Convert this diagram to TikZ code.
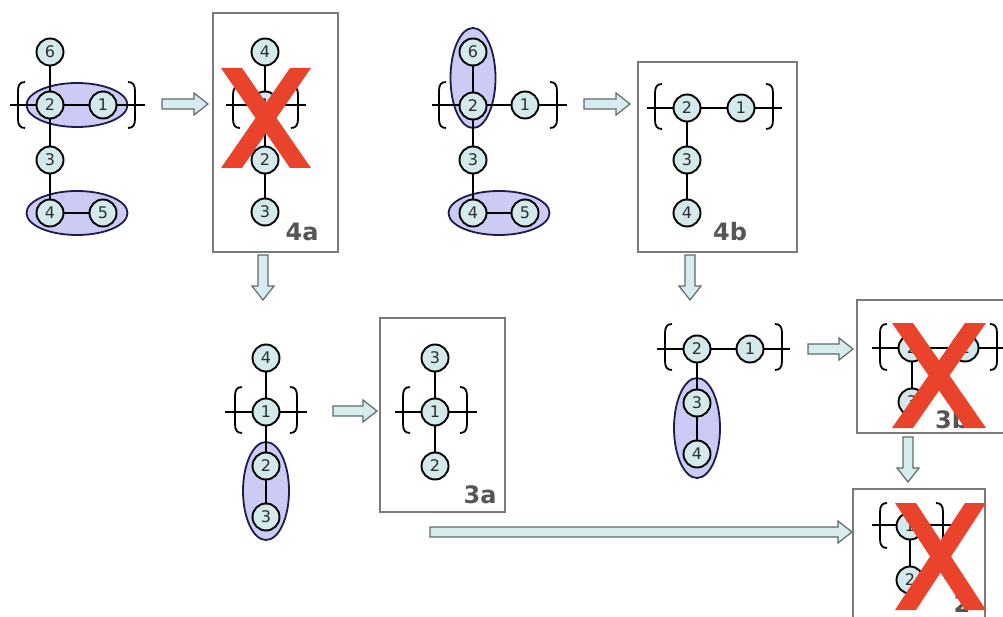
\documentclass[tikz,border=0pt]{standalone}
\usepackage{fontspec}
\newfontfamily\dvs{DejaVu Sans}
\usetikzlibrary{shapes.geometric}
\pgfdeclarelayer{paper}
\pgfdeclarelayer{ellip}
\pgfdeclarelayer{lines}
\pgfsetlayers{paper,ellip,lines,main}
\definecolor{nodefill}{HTML}{D3E9EB}
\definecolor{digit}{HTML}{2E2E2E}
\definecolor{grpfill}{HTML}{CBCBF5}
\definecolor{grpline}{HTML}{1C1C4A}
\definecolor{framegray}{HTML}{7A7A7A}
\definecolor{taggray}{HTML}{555555}
\definecolor{arrowfill}{HTML}{D6ECEF}
\definecolor{arrowline}{HTML}{5F6B6B}
\definecolor{crossred}{HTML}{E9432C}
\tikzset{
  atom/.style={circle, draw=black, fill=nodefill, line width=1.9pt,
    minimum size=27pt, inner sep=0pt, text=digit,
    font=\dvs\fontsize{16}{16}\selectfont},
  grp/.style={ellipse, draw=grpline, fill=grpfill, line width=1.8pt, inner sep=0pt},
  bond/.style={line width=1.8pt, black},
  frame/.style={draw=framegray, line width=1.4pt},
  tag/.style={font=\dvs\bfseries\fontsize{24}{24}\selectfont, text=taggray, inner sep=0pt},
  blk/.style={draw=arrowline, fill=arrowfill, line width=1.2pt, line join=miter},
  cross/.style={fill=crossred},
}
% brackets: x, top y, bottom y
\newcommand{\lbrk}[3]{\draw[bond] (#1+7,#2) .. controls (#1+2,#2) and (#1,#2+3) .. (#1,#2+9)
  -- (#1,#3-9) .. controls (#1,#3-3) and (#1+2,#3) .. (#1+7,#3);}
\newcommand{\rbrk}[3]{\draw[bond] (#1-7,#2) .. controls (#1-2,#2) and (#1,#2+3) .. (#1,#2+9)
  -- (#1,#3-9) .. controls (#1,#3-3) and (#1-2,#3) .. (#1-7,#3);}
% block arrows
\newcommand{\rarrow}[3]{\draw[blk] (#1,#3-5) -- (#2-14,#3-5) -- (#2-14,#3-11) -- (#2,#3)
  -- (#2-14,#3+11) -- (#2-14,#3+5) -- (#1,#3+5) -- cycle;}
\newcommand{\darrow}[3]{\draw[blk] (#1-5,#2) -- (#1-5,#3-14) -- (#1-11,#3-14) -- (#1,#3)
  -- (#1+11,#3-14) -- (#1+5,#3-14) -- (#1+5,#2) -- cycle;}
% red cross: left, top, right, bottom
\newcommand{\xmark}[4]{%
  \fill[cross] (#1,#2) -- (#1+21,#2) -- (#3,#4) -- (#3-21,#4) -- cycle;
  \fill[cross] (#3-21,#2) -- (#3,#2) -- (#1+21,#4) -- (#1,#4) -- cycle;}
\begin{document}
\begin{tikzpicture}[x=1pt,y=-1pt]
\begin{pgfonlayer}{paper}
  \fill[white] (0,0) rectangle (1003,617);
\end{pgfonlayer}
\useasboundingbox (0,0) rectangle (1003,617);

% ---- starting molecule, ring groups 2-1 and 4-5
\node[atom] (A6) at (50,52) {6};
\node[atom] (A2) at (50,105) {2};
\node[atom] (A1) at (103,105) {1};
\node[atom] (A3) at (50,160) {3};
\node[atom] (A4) at (50,213) {4};
\node[atom] (A5) at (103,213) {5};
\begin{pgfonlayer}{ellip}
  \node[grp, minimum width=101pt, minimum height=44pt] (gA1) at (77,105) {};
  \node[grp, minimum width=101pt, minimum height=44pt] (gA2) at (77,213) {};
\end{pgfonlayer}
\begin{pgfonlayer}{lines}
  \draw[bond] (10,105) -- (145,105);
  \draw[bond] (A6) -- (A2) -- (A3) -- (A4) -- (A5);
  \lbrk{18}{82}{128} \rbrk{135}{82}{128}
\end{pgfonlayer}
\rarrow{162}{208}{104}

% ---- result 4a
\draw[frame] (213,13) rectangle (338,252);
\node[atom] (B4) at (265,52) {4};
\node[atom] (B1) at (265,105) {1};
\node[atom] (B2) at (265,160) {2};
\node[atom] (B3) at (265,212) {3};
\begin{pgfonlayer}{lines}
  \draw[bond] (226,105) -- (306,105);
  \draw[bond] (B4) -- (B1) -- (B2) -- (B3);
  \lbrk{233}{86}{128} \rbrk{298}{86}{128}
\end{pgfonlayer}
\node[tag] (t4a) at (302,232) {4a};
\xmark{221}{68}{311}{168}
\darrow{263}{255}{300}

% ---- second variant, groups 6-2 and 4-5
\node[atom] (C6) at (473,52) {6};
\node[atom] (C2) at (473,106) {2};
\node[atom] (C1) at (525,105) {1};
\node[atom] (C3) at (473,160) {3};
\node[atom] (C4) at (473,213) {4};
\node[atom] (C5) at (525,213) {5};
\begin{pgfonlayer}{ellip}
  \node[grp, minimum width=45pt, minimum height=100pt] (gC1) at (473,78) {};
  \node[grp, minimum width=101pt, minimum height=44pt] (gC2) at (499,213) {};
\end{pgfonlayer}
\begin{pgfonlayer}{lines}
  \draw[bond] (432,105) -- (567,105);
  \draw[bond] (C6) -- (C2) -- (C3) -- (C4) -- (C5);
  \lbrk{439}{82}{128} \rbrk{557}{82}{128}
\end{pgfonlayer}
\rarrow{584}{630}{104}

% ---- result 4b
\draw[frame] (638,62) rectangle (797,252);
\node[atom] (D2) at (687,108) {2};
\node[atom] (D1) at (741,108) {1};
\node[atom] (D3) at (687,160) {3};
\node[atom] (D4) at (687,213) {4};
\begin{pgfonlayer}{lines}
  \draw[bond] (647,108) -- (782,108);
  \draw[bond] (D1) -- (D2) -- (D3) -- (D4);
  \lbrk{655}{84}{129} \rbrk{773}{84}{129}
\end{pgfonlayer}
\node[tag] (t4b) at (730,232) {4b};
\darrow{690}{255}{300}

% ---- next step from 4a, group 2-3
\node[atom] (E4) at (266,358) {4};
\node[atom] (E1) at (266,412) {1};
\node[atom] (E2) at (266,466) {2};
\node[atom] (E3) at (266,517) {3};
\begin{pgfonlayer}{ellip}
  \node[grp, minimum width=46pt, minimum height=98pt] (gE) at (266,491) {};
\end{pgfonlayer}
\begin{pgfonlayer}{lines}
  \draw[bond] (225,412) -- (307,412);
  \draw[bond] (E4) -- (E1) -- (E2) -- (E3);
  \lbrk{235}{387}{433} \rbrk{297}{387}{433}
\end{pgfonlayer}
\rarrow{333}{377}{411}

% ---- result 3a
\draw[frame] (380,318) rectangle (505,512);
\node[atom] (F3) at (435,358) {3};
\node[atom] (F1) at (435,412) {1};
\node[atom] (F2) at (435,466) {2};
\begin{pgfonlayer}{lines}
  \draw[bond] (395,412) -- (477,412);
  \draw[bond] (F3) -- (F1) -- (F2);
  \lbrk{403}{387}{433} \rbrk{467}{387}{433}
\end{pgfonlayer}
\node[tag] (t3a) at (480,495) {3a};
\rarrow{430}{852}{532}

% ---- next step from 4b, group 3-4
\node[atom] (G2) at (697,349) {2};
\node[atom] (G1) at (750,349) {1};
\node[atom] (G3) at (697,403) {3};
\node[atom] (G4) at (697,454) {4};
\begin{pgfonlayer}{ellip}
  \node[grp, minimum width=46pt, minimum height=100pt] (gG) at (697,428) {};
\end{pgfonlayer}
\begin{pgfonlayer}{lines}
  \draw[bond] (657,349) -- (790,349);
  \draw[bond] (G1) -- (G2) -- (G3) -- (G4);
  \lbrk{665}{324}{370} \rbrk{782}{324}{370}
\end{pgfonlayer}
\rarrow{808}{853}{349}

% ---- result 3b
\draw[frame] (857,300) rectangle (1012,433);
\node[atom] (H2) at (912,348) {2};
\node[atom] (H1) at (965,348) {1};
\node[atom] (H3) at (912,402) {3};
\begin{pgfonlayer}{lines}
  \draw[bond] (872,348) -- (1010,348);
  \draw[bond] (H1) -- (H2) -- (H3);
  \lbrk{880}{324}{370} \rbrk{997}{324}{370}
\end{pgfonlayer}
\node[tag] (t3b) at (952,420) {3b};
\xmark{892}{323}{986}{428}
\darrow{908}{437}{482}

% ---- final result
\draw[frame] (853,489) rectangle (985,640);
\node[atom] (I1) at (910,526) {1};
\node[atom] (I2) at (910,580) {2};
\begin{pgfonlayer}{lines}
  \draw[bond] (872,525) -- (952,525);
  \draw[bond] (I1) -- (I2);
  \lbrk{880}{503}{548} \rbrk{943}{503}{548}
\end{pgfonlayer}
\node[tag] (t2) at (962,604) {2};
\xmark{895}{503}{986}{610}
\end{tikzpicture}
\end{document}
